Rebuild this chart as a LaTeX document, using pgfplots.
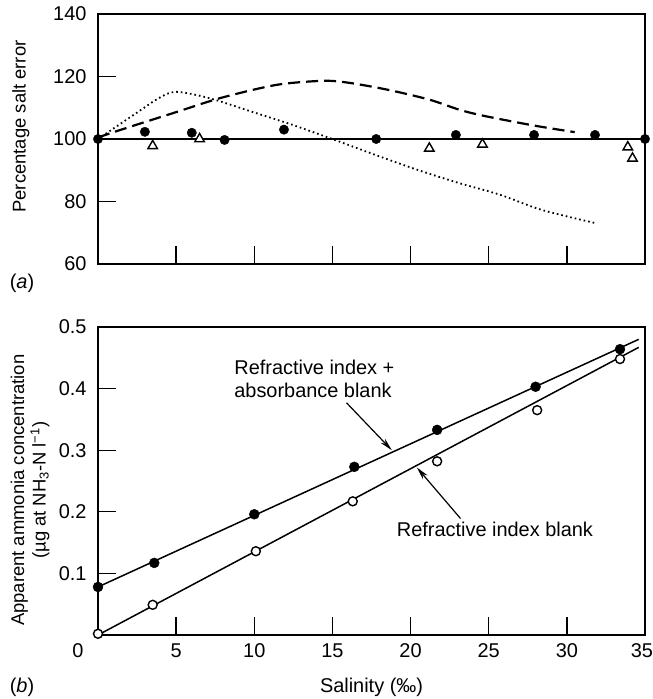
\documentclass[border=0pt]{standalone}
\usepackage{pgfplots}
\pgfplotsset{compat=1.18}
\usepackage{fontspec}
\setmainfont{Liberation Sans}
\usetikzlibrary{arrows.meta}
\pgfplotsset{
  common/.style={
    scale only axis, width=547bp,
    xmin=0, xmax=35, clip=false,
    axis line style={line width=1.3bp},
    tick style={line width=1.3bp, black},
    tick align=inside, tick pos=left,
    major tick length=18bp,
    font=\fontsize{18.5}{21.5}\selectfont,
    tick label style={font=\fontsize{20}{23}\selectfont},
    yticklabel style={xshift=-8bp},
    xticklabel style={yshift=-5bp},
    /pgf/number format/assume math mode=true,
  }
}
\begin{document}
\begin{tikzpicture}
\path[use as bounding box] (0,0) rectangle (653bp,699bp);
% ---------- panel (a) ----------
\begin{axis}[common,
  at={(98bp,435bp)}, anchor=south west, height=250bp,
  ymin=60, ymax=140, ytick={60,80,100,120,140},
  xtick={5,10,15,20,25,30}, xticklabels={},
  ylabel={Percentage salt error},
  ylabel style={at={(axis description cs:-0.141,0.55)}, anchor=center},
]
\addplot[line width=2bp] coordinates {(0,100) (35,100)};
\addplot[line width=2.2bp, dash pattern=on 12bp off 6bp, smooth] coordinates {
 (0,100.5) (1.8,103.5) (5,108.6) (7.9,113.2) (11.4,117.3) (14.3,118.6) (15.9,118.1)
 (18.5,115.8) (21.2,112.6) (23.1,109.4) (24.7,107.4) (27.9,104.3) (30.5,102.2)};
\addplot[line width=1.8bp, dash pattern=on 1.6bp off 3bp, smooth] coordinates {
 (0,100) (2.6,108.8) (3.9,113.1) (5,115.1) (7.1,113.1) (9.8,108.8) (12.4,104.6)
 (15.1,99.8) (17.7,95) (20.4,90.2) (23.1,85.9) (25.7,82.2) (28.4,77.3) (31.9,73)};
\addplot[only marks, mark=*, mark size=4.7bp, mark options={fill=black}] coordinates {
 (0,100) (3.0,102.3) (6.0,102) (8.1,99.7) (11.9,103) (17.8,100) (22.9,101.3)
 (27.9,101.3) (31.8,101.3) (35,100)};
\addplot[only marks, mark=triangle*, mark size=5.5bp, mark options={line width=1.4bp, fill=white, draw=black}] coordinates {
 (3.5,97.8) (6.5,100) (21.2,97) (24.6,98.3) (33.9,97.4) (34.2,93.8)};
\end{axis}
% ---------- panel (b) ----------
\begin{axis}[common,
  at={(98bp,64bp)}, anchor=south west, height=308bp,
  ymin=0, ymax=0.5, ytick={0.1,0.2,0.3,0.4,0.5},
  xtick={5,10,15,20,25,30},
  extra x ticks={0,35},
  extra x tick labels={\makebox[0pt][r]{0\hspace*{14.5bp}},\makebox[0pt][r]{35\hspace*{-8bp}}},
  extra x tick style={major tick length=0pt},
  xlabel={Salinity (‰)},
  xlabel style={font=\fontsize{20}{23}\selectfont, at={(axis description cs:0.5,-0.169)}, anchor=center},
  ylabel={Apparent ammonia concentration\\(µg at NH\textsubscript{3}-N l\textsuperscript{−1})},
  ylabel style={align=center, at={(axis description cs:-0.124,0.47)}, anchor=center},
]
\addplot[line width=1.5bp] coordinates {(0,0.078) (34.6,0.480)};
\addplot[line width=1.5bp] coordinates {(0,0.0) (34.6,0.467)};
\addplot[only marks, mark=*, mark size=5bp, mark options={fill=black}] coordinates {
 (0,0.078) (3.6,0.117) (10,0.196) (16.4,0.273) (21.7,0.333) (28.0,0.403) (33.4,0.464)};
\addplot[only marks, mark=*, mark size=4.5bp, mark options={fill=white, draw=black, line width=1.4bp}] coordinates {
 (0,0.002) (3.5,0.049) (10.1,0.136) (16.3,0.217) (21.7,0.282) (28.1,0.365) (33.4,0.448)};
\node[anchor=west, align=left, font=\fontsize{20}{23}\selectfont] at (axis cs:8.5,0.416) {Refractive index +\\absorbance blank};
\node[anchor=west, font=\fontsize{20}{23}\selectfont] at (axis cs:18.9,0.171) {Refractive index blank};
\draw[-{Stealth[length=13bp,width=6bp]}, line width=1.2bp] (axis cs:15.9,0.377) -- (axis cs:18.8,0.300);
\draw[-{Stealth[length=13bp,width=6bp]}, line width=1.2bp] (axis cs:23.2,0.189) -- (axis cs:20.4,0.272);
\end{axis}
\node[font=\fontsize{20}{23}\selectfont] at (22bp,416bp) {(\textit{a})};
\node[font=\fontsize{20}{23}\selectfont] at (22bp,12bp) {(\textit{b})};
\end{tikzpicture}
\end{document}
